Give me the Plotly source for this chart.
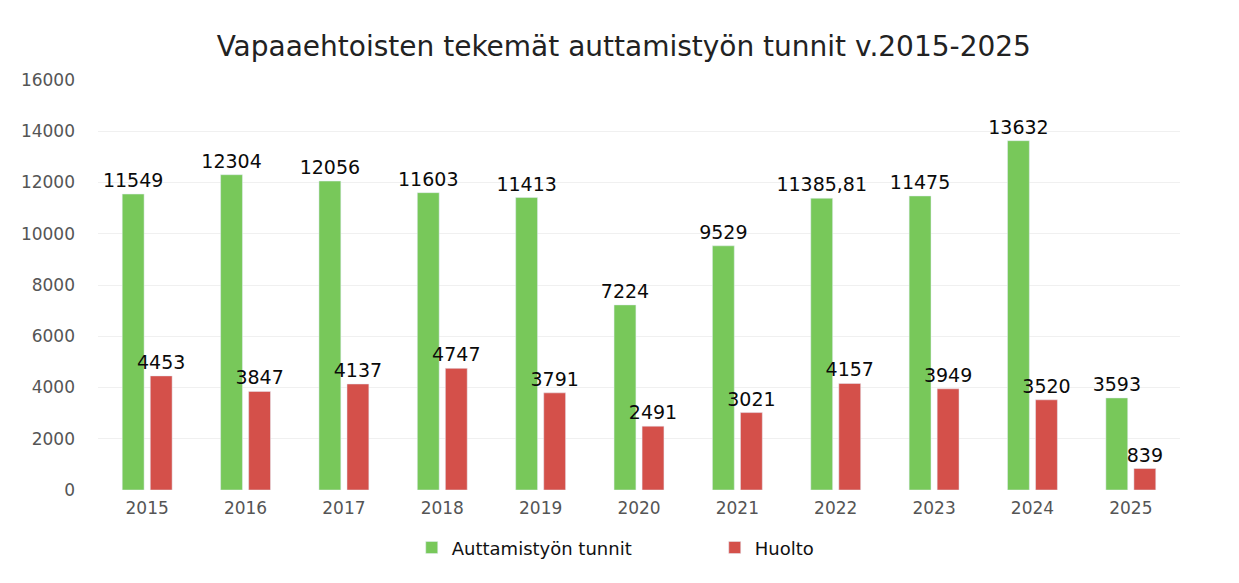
import plotly.graph_objects as go

years = ["2015", "2016", "2017", "2018", "2019", "2020", "2021", "2022", "2023", "2024", "2025"]
auttamis = [11549, 12304, 12056, 11603, 11413, 7224, 9529, 11385.81, 11475, 13632, 3593]
huolto = [4453, 3847, 4137, 4747, 3791, 2491, 3021, 4157, 3949, 3520, 839]
y_ticks = [0, 2000, 4000, 6000, 8000, 10000, 12000, 14000, 16000]


def fmt(v):
    if float(v).is_integer():
        return str(int(v))
    return f"{v:.2f}".replace(".", ",")


FONT = "DejaVu Sans"
label_font = dict(size=19, color="#0a0a0a", family=FONT)

fig = go.Figure()
fig.add_trace(go.Bar(
    name="Auttamistyön tunnit", x=years, y=auttamis,
    text=[fmt(v) for v in auttamis], textposition="outside",
    textfont=label_font, constraintext="none",
    marker_color="#78C85A", cliponaxis=False,
))
fig.add_trace(go.Bar(
    name="Huolto", x=years, y=huolto,
    text=[fmt(v) for v in huolto], textposition="outside",
    textfont=label_font, constraintext="none",
    marker_color="#D4504A", cliponaxis=False,
))

fig.update_layout(
    width=1239, height=583,
    paper_bgcolor="white", plot_bgcolor="white",
    margin=dict(l=90, r=67, t=72, b=101, autoexpand=False),
    title=dict(text="Vapaaehtoisten tekemät auttamistyön tunnit v.2015-2025",
               x=0.497, xanchor="center", y=0.935, yanchor="middle",
               font=dict(size=28, color="#222222", family=FONT)),
    barmode="group", bargap=0.43, bargroupgap=0.22,
    font=dict(family=FONT, color="#555555"),
    uniformtext=dict(mode=False),
    legend=dict(orientation="h", x=0.57, xanchor="center", y=-0.141, yanchor="middle",
                font=dict(size=18, color="#111111", family=FONT), itemwidth=30,
                traceorder="normal", entrywidthmode="pixels", entrywidth=258),
    showlegend=True,
)
fig.update_xaxes(showgrid=False, showline=False, ticks="", ticklabelstandoff=6,
                 tickfont=dict(size=17, color="#555555", family=FONT))
fig.update_yaxes(range=[0, 16000], tickvals=y_ticks, ticktext=[str(v) for v in y_ticks],
                 showgrid=True, gridcolor="#f0f0f0", zeroline=False, showline=False,
                 tickfont=dict(size=17, color="#555555", family=FONT), ticklabelstandoff=22)

fig.write_html("out.html")
